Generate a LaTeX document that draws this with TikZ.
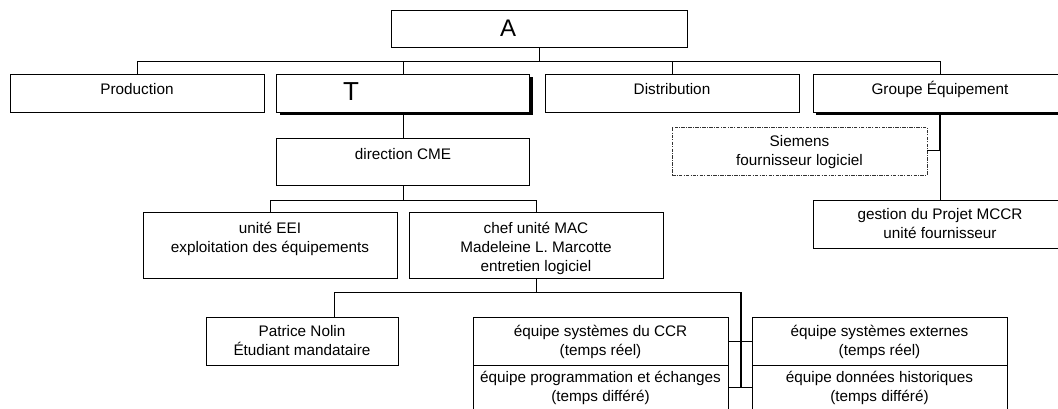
\documentclass[tikz,border=0pt]{standalone}
\usepackage{fontspec}
\setmainfont{Liberation Sans}
\usetikzlibrary{positioning,calc,shadows}

\tikzset{
  orgbox/.style={draw,fill=white,line width=1pt,minimum width=254pt,minimum height=48pt,inner sep=0pt,outer sep=0pt},
  heavybox/.style={orgbox,drop shadow={shadow xshift=3pt,shadow yshift=-3pt,fill=black,opacity=1}},
  vendorbox/.style={orgbox,draw=black!80,line width=0.8pt,dash pattern=on 3.5pt off 1.2pt on 1pt off 1.2pt},
  boxtxt/.style={anchor=north,inner sep=0pt,align=center,font=\fontsize{15.3}{19}\selectfont},
  bigtxt/.style={anchor=base,inner sep=0pt},
  wire/.style={line width=1pt},
}

\begin{document}
\begin{tikzpicture}[x=1pt,y=-1pt]
\clip (0,0) rectangle (1058,409);
% top
\node[orgbox,minimum width=296pt,minimum height=37pt] (A) at (539,29.5) {};
\node[bigtxt,font=\fontsize{24}{28}\selectfont] (A-txt) at (508,37) {A};
% level 1
\node[orgbox,minimum height=38pt] (prod) at (137,93.5) {};
\node[heavybox,minimum width=253pt,minimum height=38pt] (T) at (403,93.5) {};
\node[orgbox,minimum height=38pt] (dist) at (672,93.5) {};
\node[heavybox,minimum height=38pt] (grp) at (940,93.5) {};
\node[boxtxt] (prod-txt) at ([yshift=-6.7pt]prod.north) {\strut Production};
\node[bigtxt,font=\fontsize{26}{30}\selectfont] (T-txt) at (351,101) {T};
\node[boxtxt] (dist-txt) at ([yshift=-6.7pt]dist.north) {\strut Distribution};
\node[boxtxt] (grp-txt) at ([yshift=-6.7pt]grp.north) {\strut Groupe Équipement};
\coordinate (bus1) at (539,62);
\draw[wire] (A.south) -- (bus1);
\draw[wire] (bus1) -| (prod.north);
\draw[wire] (bus1) -| (T.north);
\draw[wire] (bus1) -| (dist.north);
\draw[wire] (bus1) -| (grp.north);
% direction CME
\node[orgbox,minimum width=253pt,minimum height=47pt] (dir) at (403,162.5) {};
\node[boxtxt] (dir-txt) at ([yshift=-6.7pt]dir.north) {\strut direction CME};
\draw[wire] (T.south) -- (dir.north);
% units
\node[orgbox,minimum height=66pt] (eei) at (270,245) {};
\node[orgbox,minimum height=66pt] (chef) at (536,245) {};
\node[boxtxt] (eei-txt) at ([yshift=-7.5pt]eei.north) {\strut unité EEI\\exploitation des équipements};
\node[boxtxt] (chef-txt) at ([yshift=-7.5pt]chef.north) {\strut chef unité MAC\\Madeleine L. Marcotte\\entretien logiciel};
\coordinate (bus2) at (403,200);
\draw[wire] (dir.south) -- (bus2);
\draw[wire] (bus2) -| (eei.north);
\draw[wire] (bus2) -| (chef.north);
% supplier side
\node[vendorbox,minimum width=255pt] (sie) at (799.5,151) {};
\node[orgbox] (gest) at (940,224) {};
\node[boxtxt] (sie-txt) at ([yshift=-6pt]sie.north) {\strut Siemens\\fournisseur logiciel};
\node[boxtxt] (gest-txt) at ([yshift=-6pt]gest.north) {\strut gestion du Projet MCCR\\unité fournisseur};
\coordinate (grp-tap) at (grp.south |- sie.east);
\draw[line width=2.2pt] (grp.south) -- (grp-tap);
\draw[wire] (grp-tap) -- (gest.north);
\draw[wire] (sie.east) -- (grp-tap);
% teams
\node[orgbox,minimum width=192pt] (pat) at (302,341) {};
\node[orgbox,minimum width=255pt] (ccr) at (600.5,341) {};
\node[orgbox,minimum width=255pt,minimum height=45pt] (prog) at (600.5,387.5) {};
\node[orgbox,minimum width=255pt] (ext) at (879.5,341) {};
\node[orgbox,minimum width=255pt,minimum height=45pt] (hist) at (879.5,387.5) {};
\node[boxtxt] (pat-txt) at ([yshift=-6pt]pat.north) {\strut Patrice Nolin\\Étudiant mandataire};
\node[boxtxt] (ccr-txt) at ([yshift=-6pt]ccr.north) {\strut équipe systèmes du CCR\\(temps réel)};
\node[boxtxt] (prog-txt) at ([yshift=-4pt]prog.north) {\strut équipe programmation et échanges\\(temps différé)};
\node[boxtxt] (ext-txt) at ([yshift=-6pt]ext.north) {\strut équipe systèmes externes\\(temps réel)};
\node[boxtxt] (hist-txt) at ([yshift=-4pt]hist.north) {\strut équipe données historiques\\(temps différé)};
\coordinate (bus3) at (741,292);
\draw[wire] (chef.south) |- (bus3);
\draw[wire] (chef.south |- bus3) -| ([xshift=32pt]pat.north);
\draw[line width=1.6pt] (bus3) -- (bus3 |- prog.east);
\draw[wire] (ccr.east) -- (ext.west);
\draw[wire] (prog.east) -- (hist.west);
\end{tikzpicture}
\end{document}
